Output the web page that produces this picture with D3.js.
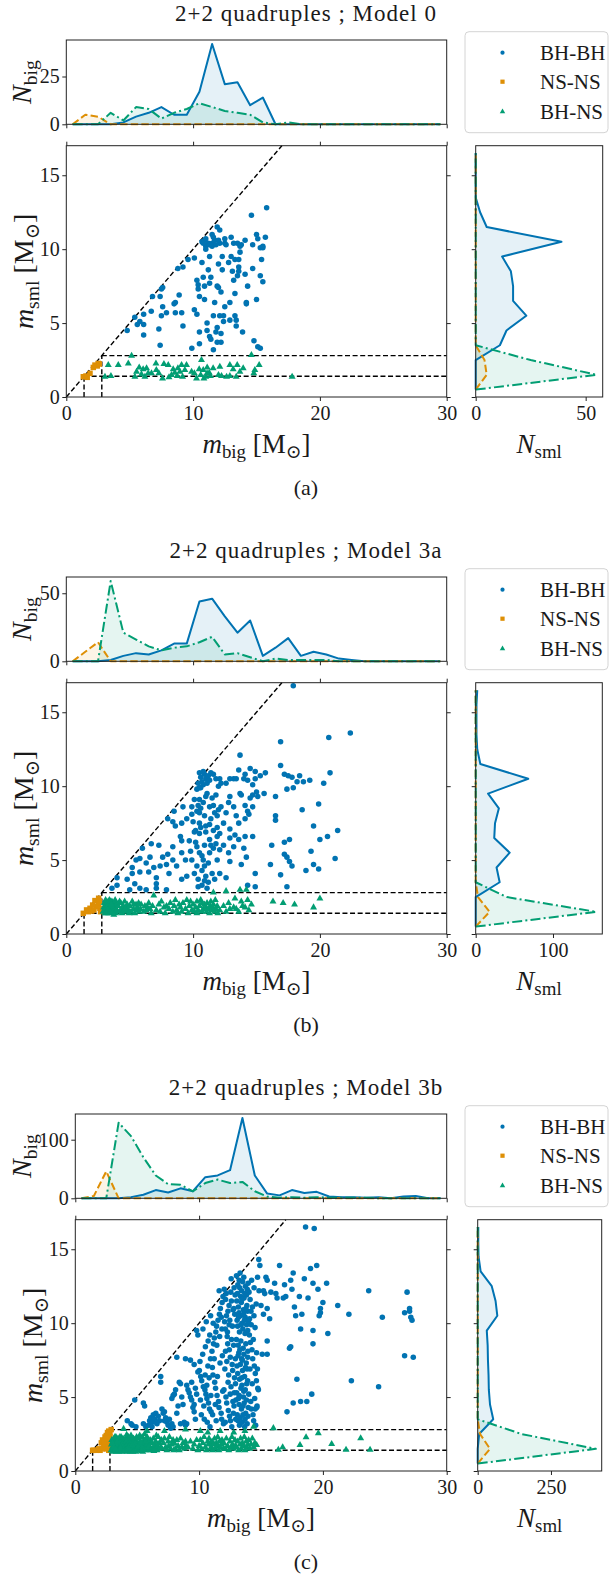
<!DOCTYPE html>
<html><head><meta charset="utf-8">
<script src="https://cdn.jsdelivr.net/npm/d3@7"></script>
<style>
body{margin:0;background:#fff}
text{font-family:"Liberation Serif","DejaVu Serif",serif;fill:#1a1a1a}
</style>
</head><body><script>
// ================= DATA =================
const titles = ["2+2 quadruples ; Model 0", "2+2 quadruples ; Model 3a", "2+2 quadruples ; Model 3b"];
const captions = ["(a)", "(b)", "(c)"];
const seriesNames = ["BH-BH", "NS-NS", "BH-NS"];
const bigBins = [0.5,1.5,2.5,3.5,4.5,5.5,6.5,7.5,8.5,9.5,10.5,11.5,12.5,13.5,14.5,15.5,16.5,17.5,18.5,19.5,20.5,21.5,22.5,23.5,24.5,25.5,26.5,27.5,28.5,29.5];
const smlBins = [0.5,1.5,2.5,3.5,4.5,5.5,6.5,7.5,8.5,9.5,10.5,11.5,12.5,13.5,14.5,15.5,16.5];
const mainXTicks = [0, 10, 20, 30];
const mainYTicks = [0, 5, 10, 15];
const topYTicksA = [0, 25], topYTicksB = [0, 50], topYTicksC = [0, 100];
const sideXTicksA = [0, 50], sideXTicksB = [0, 100], sideXTicksC = [0, 250];
const nsLimits = [1.4, 2.8];

// ---- histograms of m_big (counts per bin) ----
const bigBHBH_a = [0,0,0,0,1,4,6,9,5,5,17,42,21,22,10,14,0,0,0,0,0,0,0,0,0,0,0,0,0,0];
const bigNSNS_a = [0,5,4,0,0,0,0,0,0,0,0,0,0,0,0,0,0,0,0,0,0,0,0,0,0,0,0,0,0,0];
const bigBHNS_a = [0,0,0,6,2,9,8,3,6,8,11,9,7,6,5,1,0,1,0,0,0,0,0,0,0,0,0,0,0,0];
const bigBHBH_b = [0,0,0,1,4,6,5,8,13,13,44,46,33,21,30,4,10,17,4,7,5,2,1,0,0,0,0,0,0,0];
const bigNSNS_b = [0,7,14,0,0,0,0,0,0,0,0,0,0,0,0,0,0,0,0,0,0,0,0,0,0,0,0,0,0,0];
const bigBHNS_b = [0,0,0,59,21,16,11,8,10,11,14,18,5,6,3,0,2,1,1,1,1,0,0,0,0,0,0,0,0,0];
const bigBHBH_c = [0,0,0,0,2,6,14,10,17,12,36,39,48,137,39,8,5,14,9,11,3,2,2,1,2,0,3,4,0,0];
const bigNSNS_c = [0,4,46,0,0,0,0,0,0,0,0,0,0,0,0,0,0,0,0,0,0,0,0,0,0,0,0,0,0,0];
const bigBHNS_c = [0,0,0,129,106,70,39,24,23,12,26,32,26,28,12,3,1,2,1,2,1,1,1,1,0,0,0,0,0,0];

// ---- histograms of m_sml (counts per bin) ----
const smlBHBH_a = [0,0,0,11,14,23,17,17,16,12,39,5,2,0,0,0,0];
const smlNSNS_a = [0,5,4,0,0,0,0,0,0,0,0,0,0,0,0,0,0];
const smlBHNS_a = [0,55,25,0,0,0,0,0,0,0,0,0,0,0,0,0,0];
const smlBHBH_b = [0,0,0,31,27,44,24,25,30,16,68,6,2,1,1,1,2];
const smlNSNS_b = [0,18,3,0,0,0,0,0,0,0,0,0,0,0,0,0,0];
const smlBHNS_b = [0,156,40,0,0,0,0,0,0,0,0,0,0,0,0,0,0];
const smlBHBH_c = [0,0,5,53,42,38,37,35,34,31,67,61,48,10,3,2,2];
const smlNSNS_c = [0,42,8,0,0,0,0,0,0,0,0,0,0,0,0,0,0];
const smlBHNS_c = [0,403,150,0,0,0,0,0,0,0,0,0,0,0,0,0,0];

// ---- scatter points: flat [m_big, m_sml, ...] ----
const ptsBHBH_a = [14.6,12.3,15.8,12.8,4.8,4.5,5.4,5.4,5.6,4.9,5.8,5.1,6.1,5.6,6.1,4.9,6.1,4.2,6.7,5.8,6.8,6.8,7.4,6.8,7.5,7.3,7.6,7.4,7.4,3.5,7.3,4.6,7.6,6.1,7.5,5.5,7.9,5.7,8.5,6.3,8.6,6.4,8.6,5.7,8.8,8.7,8.9,6.9,9.1,5.7,9.2,4.8,9.2,8.8,9.6,9.3,9.9,3.3,10.1,5.9,10.1,9.4,10.3,7.9,10.3,5.6,10.4,7.6,10.4,7.3,10.5,6.8,10.5,4.4,10.5,3.6,10.7,10.5,10.7,9.1,10.8,8.1,10.9,7.5,10.9,6.6,11.0,10.7,11.0,10.2,11.1,4.5,11.1,5.0,11.2,8.6,11.3,7.7,11.3,9.5,11.3,4.1,11.4,3.9,11.4,8.1,11.5,11.0,11.5,10.4,11.5,10.2,11.6,5.5,11.6,3.2,11.7,10.6,11.7,6.4,11.8,4.4,11.9,7.5,11.9,4.7,11.9,11.5,11.9,3.7,12.0,7.4,12.0,9.0,12.1,5.5,12.1,11.3,12.1,10.4,12.2,3.7,12.2,4.3,12.2,7.1,12.3,9.5,12.3,8.6,12.4,5.5,12.4,5.1,12.5,6.1,12.5,10.4,12.5,10.7,12.8,9.1,12.9,6.4,12.9,5.2,13.0,10.8,13.0,9.5,13.1,8.5,13.2,7.9,13.3,9.3,13.3,7.0,13.3,5.5,13.4,5.2,13.4,4.8,13.5,10.4,13.5,8.2,13.6,8.5,13.6,8.8,13.6,9.3,13.7,9.8,13.7,10.2,13.8,10.3,13.9,4.4,14.1,10.6,14.1,8.3,14.2,6.4,14.2,6.3,14.3,7.5,14.7,8.7,14.7,10.3,14.8,3.8,15.0,6.6,15.0,11.0,15.1,10.7,15.1,3.4,15.3,10.1,15.3,3.3,15.3,8.2,15.4,9.3,15.5,10.1,15.5,7.8,15.7,10.8,15.5,10.2,10.9,10.6,11.2,10.4,11.6,10.8,11.8,10.3,12.0,10.6,11.3,10.3,11.0,10.0,10.8,10.4,12.6,10.3,13.2,10.4];
const ptsNSNS_a = [1.34,1.37,1.55,1.42,1.65,1.33,1.87,1.6,2.13,2.0,2.26,2.16,2.44,2.1,2.52,2.27,2.6,2.23];
const ptsBHNS_a = [5.15,2.79,3.31,2.16,3.05,1.37,3.52,1.42,4.1,2.16,4.89,2.27,5.41,1.37,5.54,1.71,5.75,2.0,5.93,1.53,6.06,1.87,6.2,1.37,6.33,1.94,6.46,1.6,6.72,1.6,7.07,2.27,7.59,1.26,7.7,2.23,8.04,2.16,8.3,1.49,8.43,1.87,8.56,1.64,8.75,1.42,8.96,1.71,9.09,2.16,9.17,1.37,9.35,1.82,9.48,2.16,9.88,1.71,10.27,1.26,10.48,1.87,10.66,2.5,10.8,1.82,10.85,1.26,11.0,1.37,11.11,2.0,11.27,1.64,11.37,1.42,11.58,1.94,12.11,2.05,12.24,1.42,12.64,1.37,12.9,2.16,13.16,1.87,13.48,2.16,13.69,1.71,13.95,1.94,14.6,2.84,14.79,1.6,14.87,1.82,15.21,2.16,17.81,1.37,7.1,1.82,7.3,1.6,8.1,1.33,8.8,1.94,10.1,1.6,11.1,1.6,12.0,1.49,13.4,1.37,12.9,1.42,10.6,1.49];

const ptsBHBH_b = [17.9,16.8,22.4,13.6,20.7,13.3,16.9,13.0,13.7,12.1,16.9,11.4,20.8,10.9,14.5,11.2,13.6,11.1,14.9,11.0,15.7,10.9,17.2,10.8,17.5,10.7,17.8,10.6,17.4,9.8,17.9,9.9,18.2,10.3,18.4,10.7,18.7,10.3,19.2,10.4,20.3,10.2,19.9,8.8,18.6,8.4,16.5,9.3,16.5,8.0,16.5,7.7,15.6,9.5,15.1,9.3,14.7,9.4,14.5,9.2,21.4,7.0,20.6,6.6,20.0,6.4,19.5,7.3,19.3,5.6,19.5,4.7,19.9,4.4,18.9,4.3,21.2,5.1,17.2,6.2,17.6,6.4,16.2,6.0,16.1,4.7,16.9,4.0,17.2,5.4,17.4,5.2,17.6,4.9,17.8,4.6,17.4,3.2,10.5,10.9,10.6,10.6,10.7,10.3,10.8,10.1,10.9,10.8,11.0,10.5,11.1,10.2,11.2,10.7,10.4,10.2,10.6,9.9,11.3,10.4,10.8,11.0,11.4,10.9,11.8,10.5,12.2,10.2,12.6,10.2,13.2,10.5,13.4,10.5,14.0,10.5,14.7,10.1,14.9,10.5,14.3,10.4,12.0,10.0,10.5,9.9,10.3,9.8,11.0,9.3,11.3,8.6,13.7,9.5,13.8,9.4,12.9,9.3,14.7,8.6,14.3,8.3,14.1,8.7,13.2,8.6,12.8,8.9,12.2,8.6,12.0,8.4,11.9,8.0,11.6,8.7,10.4,8.7,10.3,8.3,10.5,8.2,9.9,8.6,9.2,8.6,8.5,8.3,8.4,7.6,8.0,7.8,10.0,7.6,10.5,7.5,10.9,8.0,11.3,7.4,11.9,7.2,12.4,7.5,12.9,7.1,13.6,7.5,14.1,7.8,14.4,8.1,13.3,6.7,14.1,6.6,14.7,6.6,11.6,7.0,11.0,6.9,10.5,6.8,10.1,6.9,9.0,6.6,9.1,6.3,9.7,6.3,10.3,5.9,10.9,6.0,11.3,6.4,11.8,6.1,12.1,5.7,12.4,6.0,12.8,5.5,13.2,5.9,14.0,5.8,14.2,5.2,8.4,5.9,8.0,5.4,7.6,5.2,7.3,6.0,6.7,6.1,6.0,5.8,6.6,5.2,6.3,4.8,5.8,5.1,5.5,5.0,5.8,4.2,6.5,4.2,7.1,3.8,7.1,3.4,7.9,4.7,8.1,4.1,8.7,4.6,9.1,3.7,9.4,5.0,9.5,3.9,9.9,5.0,10.1,4.1,10.4,3.7,10.7,4.3,10.8,5.0,11.0,3.9,11.2,3.5,11.5,4.1,11.7,3.7,12.1,4.1,12.6,3.8,10.4,3.2,10.7,3.3,11.1,3.1,14.3,3.3,14.9,3.2,14.9,4.1,4.0,3.3,3.6,3.1,5.0,3.0,5.4,3.4,5.8,3.1,6.3,3.0,7.1,3.1,7.9,3.0,4.8,3.7,5.2,4.1,4.0,3.8,5.2,4.5,10.5,9.1,10.8,8.9,9.9,8.1,9.5,7.8,9.1,7.5,8.6,7.3,11.1,9.5,12.6,8.2,13.4,8.0,12.1,6.8,12.9,6.5,13.6,6.4,13.8,4.7,12.9,4.9,11.9,5.0,11.3,5.5,10.5,5.5,9.8,5.6,9.1,5.5,8.4,5.0,7.4,4.6,6.9,4.5,15.0,9.6,15.3,10.7,14.1,10.8,12.9,10.5,12.1,10.5,11.6,10.8,10.2,6.2,10.6,7.2,10.9,4.6,11.4,6.0,11.7,8.2,10.3,4.6,10.7,5.3,11.2,4.8,11.5,9.2,10.1,9.1,11.8,9.4,11.4,7.8,10.6,8.5,11.0,7.3,10.2,7.0,11.9,6.6,10.9,3.6,11.6,5.8];
const ptsNSNS_b = [1.34,1.4,1.6,1.63,1.87,1.74,2.08,1.96,2.26,2.26,2.39,1.85,2.52,2.08,2.65,1.74,2.7,1.51,2.18,1.63,1.73,1.51,2.0,1.55,2.55,2.42,2.6,2.2];
const ptsBHNS_b = [2.9,1.5,2.95,1.8,3.0,2.1,3.05,1.4,3.1,1.7,3.15,2.0,3.2,1.5,3.25,1.9,3.3,2.2,3.3,1.6,3.35,1.4,3.4,1.8,3.45,2.1,3.5,1.5,3.5,1.9,3.55,1.7,3.6,2.2,3.6,1.4,3.65,1.6,3.7,2.0,3.75,1.8,3.8,1.5,3.8,2.1,3.85,1.7,3.9,1.9,3.9,1.4,3.95,2.0,3.1,2.3,3.4,2.3,3.7,1.5,3.2,1.8,3.6,1.9,3.0,1.6,3.5,2.2,3.85,2.3,3.25,1.6,3.45,1.5,3.75,1.3,3.15,1.4,3.55,2.0,4.0,1.6,4.1,1.9,4.2,1.5,4.3,2.1,4.35,1.7,4.4,1.4,4.5,1.9,4.55,1.6,4.6,2.2,4.7,1.5,4.75,1.8,4.8,2.0,4.9,1.6,4.95,1.4,4.2,2.2,4.65,1.7,5.0,1.9,5.1,1.5,5.2,2.2,5.3,1.7,5.4,1.4,5.5,2.0,5.55,1.6,5.6,1.8,5.7,2.1,5.75,1.5,5.85,1.7,5.9,2.0,5.3,2.0,6.1,1.5,6.2,1.9,6.3,1.6,6.5,2.1,6.6,1.7,6.7,1.4,6.8,1.9,6.9,2.6,6.4,1.8,7.1,1.6,7.3,2.0,7.4,1.5,7.5,2.2,7.7,1.8,7.8,1.4,7.9,1.9,8.1,1.7,8.2,2.1,8.4,1.5,8.5,1.9,8.6,2.3,8.7,1.6,8.8,1.4,8.9,2.0,9.0,1.8,9.1,1.5,9.2,2.1,9.4,1.7,9.5,2.3,9.6,1.4,9.7,1.9,9.8,2.2,9.9,1.6,10.0,2.0,10.1,1.5,10.2,1.8,10.3,2.2,10.4,1.6,10.5,1.9,10.6,2.3,10.7,1.5,10.8,1.7,10.9,2.0,10.3,1.4,10.7,2.1,11.0,1.8,11.05,1.5,11.1,2.1,11.2,1.7,11.3,1.4,11.35,1.9,11.4,2.2,11.5,1.6,11.55,1.8,11.6,2.0,11.7,1.5,11.75,2.3,11.8,1.7,11.9,1.9,11.95,1.4,12.1,1.6,12.4,1.9,12.6,1.5,12.8,2.1,12.9,1.7,13.2,1.8,13.4,1.7,13.6,1.5,13.8,2.2,13.9,1.9,13.3,2.4,14.1,1.8,14.3,2.3,14.4,1.6,14.6,2.0,11.6,2.8,12.6,2.9,13.7,3.0,14.2,3.0,16.3,2.2,17.1,2.1,18.0,2.0,19.5,1.8,20.0,2.4];

const ptsBHBH_c = [4.2,3.4,4.5,3.2,4.8,4.8,4.9,3.0,4.6,3.1,5.5,4.6,5.6,4.4,5.7,3.0,5.9,3.1,5.5,3.2,6.0,3.4,6.1,3.6,6.2,3.3,6.3,3.8,6.4,3.5,6.5,3.9,6.6,3.2,6.7,3.7,6.8,3.4,6.9,6.0,6.9,6.4,6.2,3.0,6.5,3.3,7.0,4.2,7.1,3.9,7.2,4.0,7.3,3.6,7.4,3.3,7.5,3.1,7.6,3.5,7.7,2.9,7.8,3.2,7.9,3.0,7.8,4.9,7.9,5.1,7.2,3.4,8.0,5.2,8.1,5.5,8.2,7.7,8.3,4.4,8.4,6.0,8.5,5.9,8.6,5.0,8.7,4.5,8.8,3.3,8.9,7.6,8.5,3.2,8.2,3.9,8.9,3.1,9.0,5.8,9.1,5.5,9.2,5.3,9.3,5.0,9.4,4.8,9.5,4.3,9.6,4.0,9.7,5.6,9.8,5.2,9.9,6.7,9.7,3.5,9.6,7.2,9.3,7.5,9.0,3.2,9.8,9.5,9.9,9.2,9.6,4.5,9.4,6.0,
10.02,6.8,10.13,6.4,10.21,6.1,10.34,5.7,10.47,5.5,10.55,5.2,10.63,4.9,10.76,4.6,10.84,4.2,10.97,4.0,10.18,3.8,10.42,3.5,10.66,3.3,10.88,3.0,10.07,7.4,10.29,7.9,10.51,8.4,10.73,8.8,10.86,9.2,10.93,10.5,10.58,10.1,10.31,9.6,10.49,6.5,10.71,7.1,10.92,7.6,10.11,4.8,10.38,4.4,10.62,5.8,10.81,6.3,10.95,5.1,
11.04,8.1,11.16,8.6,11.23,9.0,11.35,9.4,11.41,9.8,11.53,10.2,11.64,10.6,11.72,11.0,11.86,11.4,11.93,11.8,11.07,7.0,11.12,6.5,11.26,6.0,11.33,5.6,11.45,5.1,11.57,4.7,11.61,4.3,11.78,3.9,11.82,3.5,11.97,3.2,11.09,3.8,11.31,4.5,11.48,6.4,11.69,7.3,11.88,7.8,11.22,7.6,11.43,8.5,11.66,9.1,11.84,9.6,11.91,5.4,11.38,3.4,11.62,12.2,11.79,10.4,11.14,10.0,
12.03,12.3,12.14,11.6,12.19,12.0,12.33,10.8,12.42,11.2,12.56,12.1,12.61,11.5,12.74,10.9,12.83,12.4,12.91,11.9,12.06,10.1,12.12,9.6,12.27,9.1,12.31,8.6,12.44,8.2,12.52,7.7,12.67,7.2,12.71,6.8,12.86,6.3,12.94,5.9,12.01,5.5,12.17,5.0,12.23,4.6,12.36,4.1,12.46,3.7,12.53,3.4,12.64,3.0,12.77,3.9,12.82,4.4,12.97,4.8,12.08,6.9,12.24,7.4,12.39,6.5,12.58,5.7,12.84,5.3,12.13,8.1,12.29,9.4,12.48,10.2,12.69,9.8,12.88,10.6,12.21,10.5,12.43,9.9,12.62,8.9,12.79,8.5,12.93,7.6,12.34,6.0,12.51,5.2,12.73,4.7,12.96,3.5,12.11,3.3,12.59,13.0,12.81,11.0,
13.02,13.2,13.13,12.6,13.24,12.9,13.31,13.4,13.43,12.2,13.52,12.8,13.61,13.1,13.74,12.5,13.83,11.9,13.96,12.7,13.04,11.5,13.17,11.1,13.22,10.7,13.36,11.8,13.41,11.4,13.57,10.9,13.63,11.7,13.72,10.4,13.86,11.2,13.91,10.8,13.07,10.2,13.11,9.8,13.26,9.4,13.34,10.5,13.47,10.0,13.53,9.6,13.66,10.2,13.71,9.3,13.84,9.9,13.93,9.5,13.01,8.9,13.16,8.5,13.21,8.0,13.37,8.8,13.44,7.6,13.56,8.3,13.62,7.9,13.77,8.6,13.81,7.3,13.94,8.1,13.06,7.1,13.12,6.6,13.27,6.2,13.33,7.2,13.46,5.8,13.51,6.8,13.67,6.4,13.73,5.5,13.87,6.9,13.92,6.1,13.03,5.3,13.18,4.9,13.23,4.5,13.38,5.6,13.42,4.2,13.58,5.0,13.64,4.6,13.76,3.9,13.82,4.8,13.97,4.3,13.08,3.8,13.14,3.4,13.26,3.1,13.32,3.6,13.48,3.3,13.54,3.8,13.68,3.0,13.71,3.5,13.88,3.2,13.95,3.7,13.09,12.0,13.28,12.4,13.46,11.6,13.69,12.0,13.89,12.3,13.19,10.4,13.39,9.9,13.59,10.6,13.78,11.0,13.99,10.1,13.15,7.8,13.29,8.2,13.49,7.5,13.75,7.0,13.93,7.7,13.24,5.1,13.45,6.3,13.61,5.4,13.85,5.9,13.55,4.4,
14.03,12.1,14.12,11.6,14.24,12.9,14.31,11.1,14.43,10.5,14.52,9.7,14.61,11.3,14.72,13.1,14.06,9.2,14.14,8.7,14.27,8.2,14.33,7.6,14.46,7.1,14.54,6.6,14.63,6.1,14.74,5.6,14.01,5.2,14.17,4.7,14.22,4.2,14.36,3.8,14.41,3.4,14.57,3.1,14.08,10.3,14.21,9.9,14.38,8.9,14.64,8.0,14.11,6.9,14.29,5.9,14.49,4.9,14.66,4.3,14.19,10.8,14.44,12.4,14.82,14.3,14.91,13.9,14.84,12.2,14.71,6.9,14.79,5.5,14.68,4.4,14.53,4.2,
15.4,13.1,15.5,12.9,15.2,12.2,15.8,12.1,15.5,11.0,15.7,10.3,15.5,8.8,15.1,7.9,15.5,7.9,15.3,12.0,15.0,11.2,15.2,10.6,18.6,16.5,19.3,16.4,16.5,13.9,19.5,13.9,19.0,13.7,17.6,13.4,16.1,12.7,16.9,12.6,17.4,12.9,18.5,13.0,19.2,12.7,20.3,12.7,23.7,12.2,26.8,12.1,16.8,11.7,17.0,11.8,17.5,12.3,18.1,11.8,18.8,11.7,19.6,12.3,20.0,11.4,21.2,11.2,17.7,11.1,17.8,10.5,18.3,10.6,19.8,11.0,19.8,10.7,19.7,10.5,22.1,10.6,24.8,10.4,26.6,10.7,27.0,11.0,27.0,10.8,27.1,10.4,27.2,10.2,17.3,8.3,17.4,8.4,18.2,9.6,19.2,9.5,19.2,8.6,20.4,9.3,17.9,6.2,17.1,4.0,17.6,4.6,18.2,4.7,18.7,4.7,19.1,5.2,22.3,6.1,24.5,5.7,26.6,7.8,27.3,7.7,16.3,11.7,16.2,12.0];
const ptsNSNS_c = [1.4,1.4,1.5,1.4,1.7,1.4,1.9,1.5,2.0,1.4,2.1,1.9,2.2,2.1,2.3,1.6,2.4,2.3,2.5,1.5,2.5,2.4,2.6,1.8,2.6,2.0,2.7,2.5,2.7,1.4,2.75,2.2,2.8,2.6,2.8,1.6,2.85,1.9,2.7,2.7,2.6,2.6,2.5,1.9,2.4,1.7,2.3,2.0,2.2,1.5,2.8,2.3,2.9,2.8,2.55,2.2];
const ptsBHNS_c = [2.9,1.4,2.92,1.8,2.95,2.1,3.0,1.6,3.02,1.3,3.05,2.0,3.08,1.5,3.1,1.9,3.12,2.2,3.15,1.4,3.18,1.7,3.2,2.0,3.22,1.5,3.25,1.8,3.28,2.3,3.3,1.3,3.32,1.6,3.35,2.1,3.38,1.9,3.4,1.4,3.42,1.7,3.45,2.2,3.48,1.5,3.5,1.8,3.52,2.0,3.55,1.3,3.58,1.6,3.6,2.1,3.62,1.9,3.65,1.4,3.68,1.7,3.7,2.3,3.72,1.5,3.75,1.8,3.78,2.0,3.8,1.3,3.82,1.6,3.85,2.2,3.88,1.9,3.9,1.4,3.92,1.7,3.95,2.1,3.98,1.5,3.1,1.6,3.3,1.9,3.5,1.4,3.7,1.9,3.9,2.0,3.2,2.3,3.6,2.3,3.0,1.9,3.4,2.0,3.8,1.8,3.65,1.55,3.25,1.45,4.0,1.9,4.02,1.4,4.05,1.7,4.08,2.2,4.1,1.5,4.12,2.0,4.15,1.3,4.18,1.8,4.2,2.1,4.22,1.6,4.25,1.4,4.28,1.9,4.3,2.3,4.32,1.7,4.35,1.5,4.38,2.0,4.4,1.3,4.42,1.8,4.45,2.2,4.48,1.6,4.5,1.4,4.52,1.9,4.55,2.1,4.58,1.7,4.6,1.5,4.62,2.0,4.65,1.3,4.68,1.8,4.7,2.2,4.72,1.6,4.75,1.4,4.78,1.9,4.8,2.1,4.82,1.7,4.85,1.5,4.88,2.0,4.9,1.3,4.92,1.8,4.95,2.3,4.98,1.6,4.3,1.55,4.6,1.75,4.85,1.85,4.15,2.45,4.5,2.4,5.0,1.5,5.05,1.9,5.1,2.2,5.15,1.4,5.2,1.7,5.25,2.0,5.3,1.5,5.35,1.8,5.4,2.3,5.45,1.3,5.5,1.6,5.55,2.1,5.6,1.9,5.65,1.4,5.7,1.7,5.75,2.2,5.8,1.5,5.85,1.8,5.9,2.0,5.95,1.4,5.1,1.65,5.3,1.95,5.5,1.45,5.7,2.0,5.9,1.6,5.2,2.4,5.6,2.5,5.4,1.55,5.8,2.3,5.35,1.35,6.0,1.7,6.05,2.1,6.1,1.4,6.2,1.9,6.25,1.5,6.3,2.2,6.4,1.6,6.45,1.8,6.5,2.0,6.6,1.4,6.65,1.7,6.7,2.3,6.75,1.5,6.8,1.9,6.9,1.6,6.95,2.1,6.35,1.35,6.55,2.4,7.0,1.5,7.1,1.9,7.2,2.2,7.3,1.6,7.4,1.4,7.5,2.0,7.55,1.7,7.6,2.3,7.7,1.5,7.8,1.8,7.9,2.1,7.95,1.4,8.0,1.9,8.1,1.5,8.2,2.1,8.3,1.7,8.4,1.4,8.5,2.2,8.6,1.6,8.7,1.9,8.8,1.5,8.9,2.0,8.95,1.7,9.1,1.6,9.3,2.0,9.5,1.5,9.6,1.8,9.8,2.1,9.9,1.4,10.0,1.7,10.1,2.1,10.2,1.5,10.3,1.9,10.4,2.3,10.5,1.6,10.6,1.4,10.7,2.0,10.75,1.8,10.8,2.2,10.9,1.5,10.95,1.9,11.0,1.6,11.05,2.0,11.1,1.4,11.2,1.8,11.25,2.2,11.3,1.5,11.4,1.9,11.45,1.7,11.5,2.3,11.6,1.4,11.65,2.0,11.7,1.6,11.8,1.8,11.85,2.1,11.95,1.5,12.0,1.9,12.1,1.5,12.2,2.2,12.3,1.7,12.4,1.4,12.5,2.0,12.6,1.6,12.65,2.3,12.7,1.8,12.8,1.5,12.9,2.1,12.95,1.7,13.0,1.6,13.1,2.0,13.2,1.4,13.3,1.8,13.35,2.2,13.4,1.5,13.5,1.9,13.6,1.7,13.65,2.3,13.7,1.4,13.8,2.0,13.85,1.6,13.95,1.8,14.0,2.1,14.1,1.5,14.2,1.8,14.3,2.2,14.4,1.6,14.5,1.9,3.9,2.85,5.8,2.7,7.2,2.7,8.9,2.8,10.1,2.7,10.7,2.6,11.7,2.7,12.8,2.6,13.7,2.7,14.4,3.0,16.0,2.9,14.65,1.76,16.4,1.43,16.75,1.6,18.15,1.76,18.64,2.29,19.63,2.56,20.71,1.83,21.87,1.43,23.05,2.22,23.81,1.43];

// ================= DRAWING =================
const W = 610, H = 1576;
const colors = ["#0173b2", "#de8f05", "#029e73"];
const dashes = [null, "7.4,3.2", "10,3.2,2,3.2"];
const INK = "#222";
const SERIF = '"Liberation Serif","DejaVu Serif",serif';

const panels = [
  {title: titles[0], cap: captions[0], big: [bigBHBH_a, bigNSNS_a, bigBHNS_a], sml: [smlBHBH_a, smlNSNS_a, smlBHNS_a],
   pts: [ptsBHBH_a, ptsNSNS_a, ptsBHNS_a], topTicks: topYTicksA, sideTicks: sideXTicksA},
  {title: titles[1], cap: captions[1], big: [bigBHBH_b, bigNSNS_b, bigBHNS_b], sml: [smlBHBH_b, smlNSNS_b, smlBHNS_b],
   pts: [ptsBHBH_b, ptsNSNS_b, ptsBHNS_b], topTicks: topYTicksB, sideTicks: sideXTicksB},
  {title: titles[2], cap: captions[2], big: [bigBHBH_c, bigNSNS_c, bigBHNS_c], sml: [smlBHBH_c, smlNSNS_c, smlBHNS_c],
   pts: [ptsBHBH_c, ptsNSNS_c, ptsBHNS_c], topTicks: topYTicksC, sideTicks: sideXTicksC}
];
const layouts = [
  {dy: 0,    mL: 66.3, mR: 446.7, rL: 475.7, rR: 602.7},
  {dy: 537,  mL: 66.3, mR: 446.7, rL: 475.7, rR: 602.3},
  {dy: 1074, mL: 75.3, mR: 446.7, rL: 477.7, rR: 601.7}
];

const svg = d3.select("body").append("svg").attr("width", W).attr("height", H)
  .attr("viewBox", `0 0 ${W} ${H}`);
svg.append("rect").attr("width", W).attr("height", H).attr("fill", "#fff");

function toPairs(flat) { const out = []; for (let i = 0; i + 1 < flat.length; i += 2) out.push([flat[i], flat[i + 1]]); return out; }

function mathText(sel, parts, size) {
  let off = 0;
  parts.forEach(([t, s]) => {
    const ts = sel.append("tspan").text(t);
    if (s === "i") ts.style("font-style", "italic");
    if (s === "s") {
      ts.attr("font-size", size * 0.7).attr("dy", size * 0.2 - off);
      off = size * 0.2;
    } else if (off !== 0) {
      ts.attr("dy", -off); off = 0;
    }
  });
}

function styleAxis(g, labels) {
  g.attr("font-family", null).attr("font-size", null);
  g.select(".domain").remove();
  g.selectAll(".tick line").attr("stroke", INK).attr("stroke-width", 1);
  g.selectAll(".tick text").attr("font-size", 20).attr("fill", "#1a1a1a").style("font-family", SERIF);
  if (!labels) g.selectAll(".tick text").remove();
}

function markerPath(kind, size) {
  if (kind === 0) return d3.symbol(d3.symbolCircle, size)();
  if (kind === 1) return d3.symbol(d3.symbolSquare, size)();
  return d3.symbol(d3.symbolTriangle, size)();
}
const mSizes = [24, 30, 21];

panels.forEach((p, pi) => {
  const L = layouts[pi], dy = L.dy;
  const topT = 40 + dy, topB = 124.3 + dy, mT = 145.7 + dy, mB = 397 + dy;
  const g = svg.append("g");

  const x = d3.scaleLinear().domain([0, 30]).range([L.mL, L.mR]);
  const y = d3.scaleLinear().domain([0, 17]).range([mB, mT]);
  const bigMax = d3.max(p.big.flat());
  const yT = d3.scaleLinear().domain([0, bigMax * 1.05]).range([topB, topT]);
  const smlMax = d3.max(p.sml.flat());
  const xR = d3.scaleLinear().domain([0, smlMax * 1.05]).range([L.rL, L.rR]);

  // title
  g.append("text").attr("x", 306).attr("y", 21 + dy).attr("text-anchor", "middle")
    .attr("font-size", 23).attr("letter-spacing", 1).text(p.title);

  // ---------- top histogram ----------
  const gt = g.append("g");
  p.big.forEach((arr, si) => {
    const data = bigBins.map((c, i) => [c, arr[i]]);
    gt.append("path").datum(data).attr("fill", colors[si]).attr("fill-opacity", 0.1)
      .attr("d", d3.area().x(d => x(d[0])).y0(yT(0)).y1(d => yT(d[1])));
  });
  p.big.forEach((arr, si) => {
    const data = bigBins.map((c, i) => [c, arr[i]]);
    gt.append("path").datum(data).attr("fill", "none").attr("stroke", colors[si]).attr("stroke-width", 2)
      .attr("stroke-dasharray", dashes[si]).attr("stroke-linejoin", "round")
      .attr("d", d3.line().x(d => x(d[0])).y(d => yT(d[1])));
  });
  const tb = gt.append("g").attr("transform", `translate(0,${topB})`)
    .call(d3.axisBottom(x).tickValues(mainXTicks).tickSize(4).tickSizeOuter(0));
  styleAxis(tb, false);
  const tl = gt.append("g").attr("transform", `translate(${L.mL},0)`)
    .call(d3.axisLeft(yT).tickValues(p.topTicks).tickSize(4).tickPadding(2.5).tickSizeOuter(0));
  styleAxis(tl, true);
  gt.append("rect").attr("x", L.mL).attr("y", topT).attr("width", L.mR - L.mL).attr("height", topB - topT)
    .attr("fill", "none").attr("stroke", INK).attr("stroke-width", 1);
  const nb = gt.append("text").attr("transform", `translate(${31},${(topT + topB) / 2}) rotate(-90)`)
    .attr("text-anchor", "middle").attr("font-size", 28);
  mathText(nb, [["N", "i"], ["big", "s"]], 28);

  // ---------- main scatter ----------
  const gm = g.append("g");
  const dash = "5,2.6";
  const ref = [
    [[0, 0], [17, 17]],
    [[nsLimits[1], nsLimits[1]], [30, nsLimits[1]]],
    [[nsLimits[0], nsLimits[0]], [30, nsLimits[0]]],
    [[nsLimits[0], 0], [nsLimits[0], nsLimits[0]]],
    [[nsLimits[1], 0], [nsLimits[1], nsLimits[1]]]
  ];
  ref.forEach(seg => {
    gm.append("line").attr("x1", x(seg[0][0])).attr("y1", y(seg[0][1])).attr("x2", x(seg[1][0])).attr("y2", y(seg[1][1]))
      .attr("stroke", "#000").attr("stroke-width", 1.4).attr("stroke-dasharray", dash);
  });
  p.pts.forEach((flat, si) => {
    gm.append("g").selectAll("path").data(toPairs(flat)).join("path")
      .attr("transform", d => `translate(${x(d[0])},${y(d[1])})`)
      .attr("d", markerPath(si, mSizes[si])).attr("fill", colors[si]);
  });
  const mbx = gm.append("g").attr("transform", `translate(0,${mB})`)
    .call(d3.axisBottom(x).tickValues(mainXTicks).tickSize(4).tickPadding(5).tickSizeOuter(0));
  styleAxis(mbx, true);
  const mtx = gm.append("g").attr("transform", `translate(0,${mT})`)
    .call(d3.axisTop(x).tickValues(mainXTicks).tickSize(4).tickSizeOuter(0));
  styleAxis(mtx, false);
  const mly = gm.append("g").attr("transform", `translate(${L.mL},0)`)
    .call(d3.axisLeft(y).tickValues(mainYTicks).tickSize(4).tickPadding(2.5).tickSizeOuter(0));
  styleAxis(mly, true);
  const mry = gm.append("g").attr("transform", `translate(${L.mR},0)`)
    .call(d3.axisRight(y).tickValues(mainYTicks).tickSize(4).tickSizeOuter(0));
  styleAxis(mry, false);
  gm.append("rect").attr("x", L.mL).attr("y", mT).attr("width", L.mR - L.mL).attr("height", mB - mT)
    .attr("fill", "none").attr("stroke", INK).attr("stroke-width", 1);
  const yl = gm.append("text").attr("transform", `translate(${L.mL - 33},${(mT + mB) / 2}) rotate(-90)`)
    .attr("text-anchor", "middle").attr("font-size", 28);
  mathText(yl, [["m", "i"], ["sml", "s"], [" [M", "r"], ["\u2299", "s"], ["]", "r"]], 28);
  const xl = gm.append("text").attr("x", (L.mL + L.mR) / 2).attr("y", mB + 56)
    .attr("text-anchor", "middle").attr("font-size", 27);
  mathText(xl, [["m", "i"], ["big", "s"], [" [M", "r"], ["\u2299", "s"], ["]", "r"]], 27);

  // ---------- side histogram ----------
  const gs = g.append("g");
  p.sml.forEach((arr, si) => {
    const data = smlBins.map((c, i) => [c, arr[i]]);
    gs.append("path").datum(data).attr("fill", colors[si]).attr("fill-opacity", 0.1)
      .attr("d", d3.area().y(d => y(d[0])).x0(xR(0)).x1(d => xR(d[1])));
  });
  p.sml.forEach((arr, si) => {
    const data = smlBins.map((c, i) => [c, arr[i]]);
    gs.append("path").datum(data).attr("fill", "none").attr("stroke", colors[si]).attr("stroke-width", 2)
      .attr("stroke-dasharray", dashes[si]).attr("stroke-linejoin", "round")
      .attr("d", d3.line().x(d => xR(d[1])).y(d => y(d[0])));
  });
  const sb = gs.append("g").attr("transform", `translate(0,${mB})`)
    .call(d3.axisBottom(xR).tickValues(p.sideTicks).tickSize(4).tickPadding(5).tickSizeOuter(0));
  styleAxis(sb, true);
  const sl = gs.append("g").attr("transform", `translate(${L.rL},0)`)
    .call(d3.axisLeft(y).tickValues(mainYTicks).tickSize(4).tickSizeOuter(0));
  styleAxis(sl, false);
  gs.append("rect").attr("x", L.rL).attr("y", mT).attr("width", L.rR - L.rL).attr("height", mB - mT)
    .attr("fill", "none").attr("stroke", INK).attr("stroke-width", 1);
  const nl = gs.append("text").attr("x", (L.rL + L.rR) / 2).attr("y", mB + 56)
    .attr("text-anchor", "middle").attr("font-size", 27);
  mathText(nl, [["N", "i"], ["sml", "s"]], 27);

  // ---------- legend ----------
  const lg = g.append("g");
  lg.append("rect").attr("x", 465).attr("y", 31.7 + dy).attr("width", 143).attr("height", 101)
    .attr("rx", 4).attr("fill", "#fff").attr("stroke", "#d4d4d4").attr("stroke-width", 1);
  const lys = [52.7, 81.7, 111.7];
  seriesNames.forEach((nm, si) => {
    lg.append("path").attr("transform", `translate(502.5,${lys[si] + dy})`)
      .attr("d", markerPath(si, [14, 18, 13][si])).attr("fill", colors[si]);
    lg.append("text").attr("x", 540).attr("y", lys[si] + dy + 7).attr("font-size", 21).text(nm);
  });

  // caption
  g.append("text").attr("x", 306).attr("y", mB + 98).attr("text-anchor", "middle")
    .attr("font-size", 22).text(p.cap);
});
</script></body></html>
